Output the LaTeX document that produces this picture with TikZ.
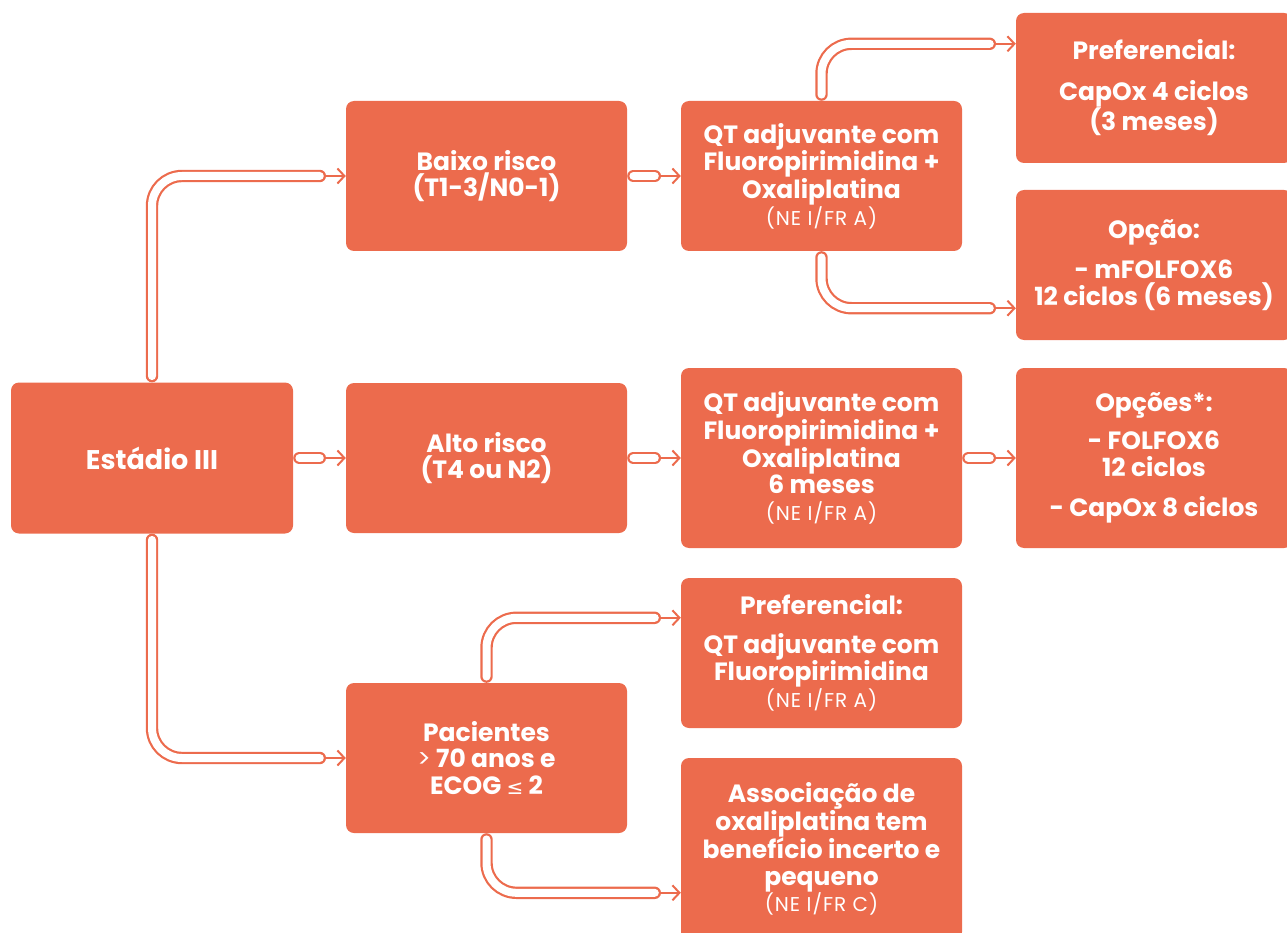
\documentclass[tikz,border=0pt]{standalone}
\usepackage{fontspec}
\setmainfont{Poppins}
\newfontfamily\dejavu{DejaVu Sans}
\usetikzlibrary{arrows.meta,calc,backgrounds}
\definecolor{oc}{HTML}{EC6B4D}
\tikzset{
  box/.style={fill=oc, rounded corners=8pt, text=white, align=center,
    font=\bfseries\fontsize{25}{26.5}\selectfont, inner sep=0pt,
    minimum width=281pt, minimum height=150pt},
  tube/.style={draw=oc, line width=2.2pt, double=white, double distance=8pt,
    line cap=round, rounded corners=30pt},
  arr/.style={draw=oc, line width=2pt, line cap=round,
    -{Straight Barb[length=7pt,width=15pt,line width=2pt]}},
}
\newcommand{\sm}[1]{{\mdseries\fontsize{20}{22}\selectfont\addfontfeature{LetterSpace=5}#1}}
\begin{document}
\begin{tikzpicture}[x=1pt,y=-1pt]
\useasboundingbox (0,0) rectangle (1287,933);
\clip (0,0) rectangle (1287,933);
% boxes
\node[box, minimum width=282pt, minimum height=151pt, font=\bfseries\fontsize{27}{28}\selectfont] (est) at (152,458) {Estádio III};
\node[box] (baixo) at (486.5,176) {Baixo risco\\(T1-3/N0-1)};
\node[box] (alto) at (486.5,458) {Alto risco\\(T4 ou N2)};
\node[box] (pac) at (486.5,758) {Pacientes\\{\mdseries >} 70 anos e\\ECOG {\dejavu\mdseries\fontsize{20}{20}\selectfont ≤} 2};
\node[box] (qt1) at (821.5,176) {QT adjuvante com\\Fluoropirimidina +\\Oxaliplatina\\\sm{(NE I/FR A)}};
\node[box, minimum height=180pt] (qt2) at (821.5,458) {QT adjuvante com\\Fluoropirimidina +\\Oxaliplatina\\6 meses\\\sm{(NE I/FR A)}};
\node[box] (prefqt) at (821.5,653) {Preferencial:\\[12pt]QT adjuvante com\\Fluoropirimidina\\\sm{(NE I/FR A)}};
\node[box, minimum height=182pt] (assoc) at (821.5,849) {Associação de\\oxaliplatina tem\\benefício incerto e\\pequeno\\\sm{(NE I/FR C)}};
\node[box, minimum width=276pt] (capox) at (1154,88) {Preferencial:\\[14pt]CapOx 4 ciclos\\(3 meses)};
\node[box, minimum width=276pt] (opcao) at (1154,265) {Opção:\\[14pt]- mFOLFOX6\\12 ciclos (6 meses)};
\node[box, minimum width=276pt, minimum height=180pt] (opcoes) at (1154,458) {Opções*:\\[12pt]- FOLFOX6\\12 ciclos\\[14pt]- CapOx 8 ciclos};
% connectors
\begin{scope}[on background layer]
\draw[tube] ([yshift=6.2pt]est.north) |- ([xshift=-26pt]baixo.west);
\draw[arr] ([xshift=-20pt]baixo.west) -- (baixo.west);
\draw[tube] ([xshift=6.2pt]est.east) -- ([xshift=-26pt]alto.west);
\draw[arr] ([xshift=-20pt]alto.west) -- (alto.west);
\draw[tube] ([yshift=-6.2pt]est.south) |- ([xshift=-26pt]pac.west);
\draw[arr] ([xshift=-20pt]pac.west) -- (pac.west);
\draw[tube] ([xshift=6.2pt]baixo.east) -- ([xshift=-26pt]qt1.west);
\draw[arr] ([xshift=-20pt]qt1.west) -- (qt1.west);
\draw[tube] ([xshift=6.2pt]alto.east) -- ([xshift=-26pt]qt2.west);
\draw[arr] ([xshift=-20pt]qt2.west) -- (qt2.west);
\draw[tube] ([xshift=6.2pt]qt2.east) -- ([xshift=-26pt]opcoes.west);
\draw[arr] ([xshift=-20pt]opcoes.west) -- (opcoes.west);
\draw[tube] ([yshift=6.2pt]qt1.north) |- ($(capox.north west)+(-26,31)$);
\draw[arr] ($(capox.north west)+(-20,31)$) -- ($(capox.north west)+(0,31)$);
\draw[tube] ([yshift=-6.2pt]qt1.south) |- ($(opcao.south west)+(-26,-32)$);
\draw[arr] ($(opcao.south west)+(-20,-32)$) -- ($(opcao.south west)+(0,-32)$);
\draw[tube] ([yshift=6.2pt]pac.north) |- ($(prefqt.north west)+(-26,40)$);
\draw[arr] ($(prefqt.north west)+(-20,40)$) -- ($(prefqt.north west)+(0,40)$);
\draw[tube] ([yshift=-6.2pt]pac.south) |- ($(assoc.north west)+(-26,135)$);
\draw[arr] ($(assoc.north west)+(-20,135)$) -- ($(assoc.north west)+(0,135)$);
\end{scope}
\end{tikzpicture}
\end{document}
